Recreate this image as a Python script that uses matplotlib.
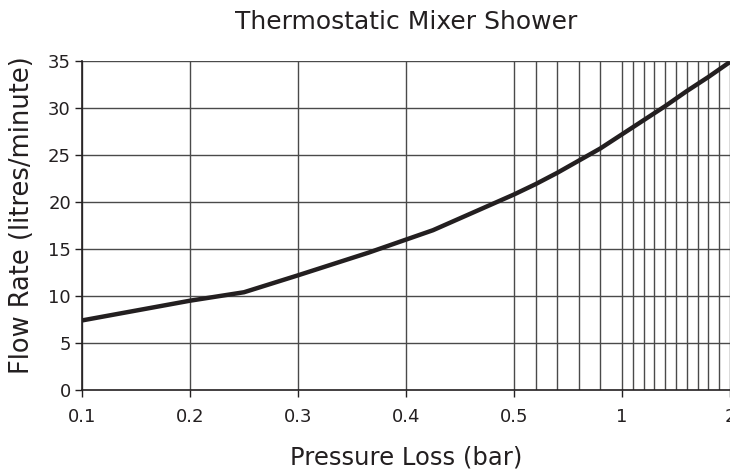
import numpy as np
import matplotlib
matplotlib.use("Agg")
import matplotlib.pyplot as plt

plt.rcParams['font.family'] = ['DejaVu Sans']

# curve
pressure = [0.1, 0.2, 0.25, 0.3, 0.365, 0.425, 0.5, 0.6, 0.7, 0.8, 0.9, 1.0, 1.2, 1.4, 1.6, 1.8, 2.0]
flow = [7.4, 9.5, 10.4, 12.2, 14.6, 17.0, 20.8, 21.9, 23.1, 24.4, 25.7, 27.2, 28.7, 30.2, 31.8, 33.3, 34.9]

tick_values = [0.1, 0.2, 0.3, 0.4, 0.5, 1, 2]
tick_labels = ['0.1', '0.2', '0.3', '0.4', '0.5', '1', '2']
grid_x = [0.1, 0.2, 0.3, 0.4, 0.5, 0.6, 0.7, 0.8, 0.9, 1.0,
          1.1, 1.2, 1.3, 1.4, 1.5, 1.6, 1.7, 1.8, 1.9, 2.0]
y_ticks = [0, 5, 10, 15, 20, 25, 30, 35]

# piecewise scale: each labelled tick is one equal step
breaks = np.array(tick_values, dtype=float)
steps = np.arange(len(breaks), dtype=float)


def fwd(v):
    return np.interp(v, breaks, steps)


def inv(s):
    return np.interp(s, steps, breaks)


fig = plt.figure(figsize=(7.3, 4.72), dpi=100)
ax = fig.add_axes([82 / 730, 1 - 390 / 472, 648 / 730, 329 / 472])
ax.set_xscale('function', functions=(fwd, inv))
ax.set_xlim(0.1, 2.0)
ax.set_ylim(0, 35)

for gx in grid_x:
    ax.axvline(gx, color='#4a4a4a', linewidth=1.0, zorder=1)
for gy in y_ticks[1:]:
    ax.axhline(gy, color='#4a4a4a', linewidth=1.0, zorder=1)

ax.plot(pressure, flow, color='#231f20', linewidth=3.2, solid_capstyle='butt', zorder=3)

ax.set_xticks(tick_values)
ax.set_xticklabels(tick_labels)
ax.xaxis.set_minor_locator(matplotlib.ticker.NullLocator())
ax.set_yticks(y_ticks)
ax.tick_params(axis='both', direction='out', length=5, width=1, labelsize=13,
               color='#231f20', labelcolor='#231f20')
ax.tick_params(axis='x', pad=8)
ax.tick_params(axis='y', pad=3)

for side in ['top', 'right']:
    ax.spines[side].set_visible(False)
for side in ['left', 'bottom']:
    ax.spines[side].set_linewidth(1.2)
    ax.spines[side].set_color('#231f20')

ax.set_title('Thermostatic Mixer Shower', fontsize=18, color='#231f20', pad=23)
ax.set_xlabel('Pressure Loss (bar)', fontsize=17.5, color='#231f20', labelpad=14)
ax.set_ylabel('Flow Rate (litres/minute)', fontsize=18.5, color='#231f20')
ax.yaxis.set_label_coords(-0.072, 0.532)

fig.savefig('out.png', dpi=100)
